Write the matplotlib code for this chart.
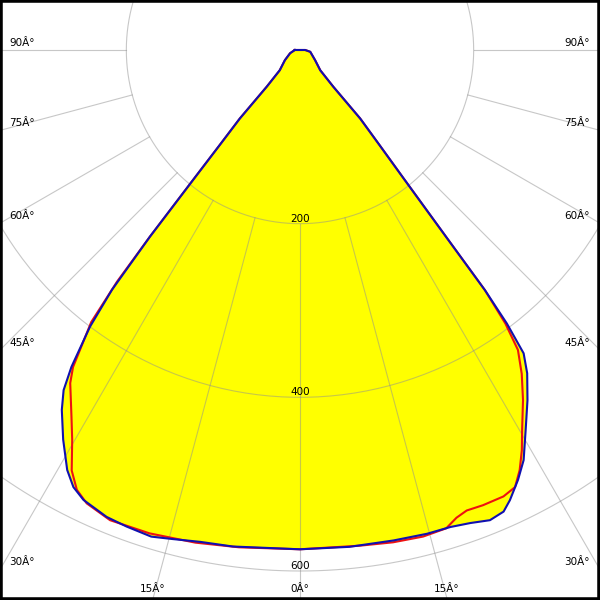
import numpy as np
import matplotlib
matplotlib.use('Agg')
import matplotlib.pyplot as plt

# luminous intensity, angle in degrees from nadir (negative = left half), value in cd
blue_ang = [-90, -72, -56, -45, -42.2, -41.3, -40.2, -39.5, -38.8, -38.1,
            -37.2, -35.8, -34.8, -33.5, -31.3, -29, -27.4, -25.7, -22.5, -20,
            -17, -14.6, -11.5, -7.7, 0, 5.7, 10.8, 14.7, 17.5, 19.8,
            22, 23.8, 25, 26.9, 28.6, 30.7, 33, 35.1, 36.4, 37.1,
            37.6, 38.0, 38.9, 39.9, 41.3, 42.2, 45, 56, 80, 90]
blue_cd = [6, 12, 21, 33, 57, 105, 143, 190, 276, 351,
           400, 450, 477, 497, 525, 553, 567, 575, 582, 584,
           586, 582, 578, 577, 575, 575, 575, 576, 576, 579,
           584, 581, 572, 555, 538, 509, 481, 455, 434, 395,
           349, 276, 190, 143, 105, 57, 33, 21, 12, 6]

red_ang = [-90, -72, -56, -45, -42.2, -41.3, -40.2, -39.5, -38.8, -38.3,
           -37.5, -35.6, -34.6, -31.9, -30.3, -28.5, -26.9, -25.2, -22, -17.3,
           -12, -7, 0, 6.9, 10.7, 14.2, 17, 18.5, 19.9, 21.9,
           24.5, 26.2, 27.6, 29, 30.3, 32.5, 34.4, 36, 36.9, 37.6,
           38.0, 38.9, 39.9, 41.3, 42.2, 45, 56, 80, 90]
red_cd = [6, 12, 21, 33, 57, 105, 143, 190, 276, 340,
          395, 449, 466, 498, 520, 551, 568, 577, 584, 583,
          580, 577, 575, 575, 577, 578, 576, 568, 564, 565,
          565, 561, 546, 527, 507, 478, 452, 427, 394, 349,
          276, 190, 143, 105, 57, 33, 21, 12, 6]

rings = [200, 400, 600]
spokes = list(range(-90, 91, 15))

# layout: pole at (300, 50) px, 600 cd = 521 px
k = 521 / 600.0
cx, cy = 300, 50


def to_xy(ang, val):
    t = np.radians(np.asarray(ang, dtype=float))
    v = np.asarray(val, dtype=float)
    return v * np.sin(t), -v * np.cos(t)


def px(xp, yp):
    return (xp - cx) / k, (cy - yp) / k


fig = plt.figure(figsize=(6, 6), dpi=100)
ax = fig.add_axes([0, 0, 1, 1])
ax.set_xlim(-cx / k, (600 - cx) / k)
ax.set_ylim(-(600 - cy) / k, cy / k)
ax.set_xticks([])
ax.set_yticks([])
for s in ax.spines.values():
    s.set_color('black')
    s.set_linewidth(4)

bx, by = to_xy(blue_ang, blue_cd)
rx, ry = to_xy(red_ang, red_cd)

ax.fill(rx, ry, color='#ffff00', lw=0, zorder=1)
ax.fill(bx, by, color='#ffff00', lw=0, zorder=1)

# grid
grid_kw = dict(color='#909090', alpha=0.5, lw=0.8, zorder=2)
full = np.linspace(-180, 180, 361)
for r in rings:
    gx, gy = to_xy(full, np.full(full.shape, r))
    ax.plot(gx, gy, **grid_kw)
    lx, ly = to_xy([0], [r])
    ax.annotate(str(r), (lx[0], ly[0]), xytext=(0, 1.5), textcoords='offset points',
                ha='center', va='baseline', fontsize=7.5, color='black', zorder=5)
for a in spokes:
    gx, gy = to_xy([a, a], [200, 1000])
    ax.plot(gx, gy, **grid_kw)

ax.plot(np.append(rx, rx[0]), np.append(ry, ry[0]), color='#ee1111', lw=1.5, zorder=3)
ax.plot(np.append(bx, bx[0]), np.append(by, by[0]), color='#1010b0', lw=1.5, zorder=4)

# angle labels where each spoke meets the frame
for a in spokes:
    t = np.radians(abs(a))
    label = '%dÂ°' % abs(a)
    if np.tan(t) > cx / (600 - cy):
        hit_y = cy + cx / np.tan(t) if abs(a) != 90 else cy
        if a < 0:
            x, y = px(9, hit_y - 4.5)
            ha = 'left'
        else:
            x, y = px(590, hit_y - 4.5)
            ha = 'right'
    else:
        hit_x = cx + np.sign(a) * (600 - cy) * np.tan(t)
        x, y = px(hit_x - 0.5, 592.5)
        ha = 'center'
    ax.text(x, y, label, ha=ha, va='baseline', fontsize=7.5, color='black', zorder=5)

fig.savefig('out.png', dpi=100)
